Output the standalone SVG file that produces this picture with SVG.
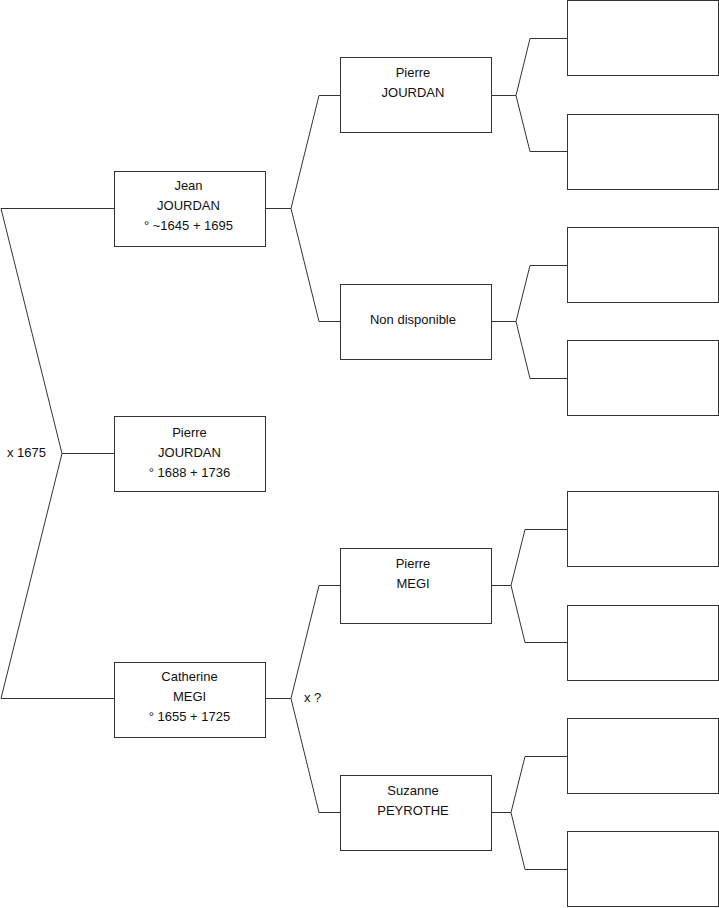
<svg xmlns="http://www.w3.org/2000/svg" width="719" height="908" viewBox="0 0 719 908">
<style>
.box{fill:#fff;stroke:#333;stroke-width:1}
.ln{fill:none;stroke:#333;stroke-width:1}
text{font-family:"Liberation Sans",Arial,sans-serif;font-size:13px;fill:#111;text-anchor:middle}
.lbl{text-anchor:start}
</style>
<rect width="719" height="908" fill="#fff"/>
<g id="connectors">
<polyline class="ln" points="114,208.5 1,208.5 62,453.5 1,698.5 114,698.5"/>
<line class="ln" x1="62" y1="453.5" x2="114" y2="453.5"/>
<polyline class="ln" points="340,95.5 319,95.5 291,208.5 319,321.5 340,321.5"/>
<line class="ln" x1="265" y1="208.5" x2="291" y2="208.5"/>
<polyline class="ln" points="340,585.5 319,585.5 291,698.5 319,812.5 340,812.5"/>
<line class="ln" x1="265" y1="698.5" x2="291" y2="698.5"/>
<polyline class="ln" points="567,38.5 530,38.5 516,95.5 530,151.5 567,151.5"/>
<line class="ln" x1="492" y1="95.5" x2="516" y2="95.5"/>
<polyline class="ln" points="567,265.5 530,265.5 516,321.5 530,378.5 567,378.5"/>
<line class="ln" x1="492" y1="321.5" x2="516" y2="321.5"/>
<polyline class="ln" points="567,529.5 525,529.5 511,585.5 525,642.5 567,642.5"/>
<line class="ln" x1="492" y1="585.5" x2="511" y2="585.5"/>
<polyline class="ln" points="567,756.5 525,756.5 511,812.5 525,869.5 567,869.5"/>
<line class="ln" x1="492" y1="812.5" x2="511" y2="812.5"/>
<text class="lbl" x="7" y="457">x 1675</text>
<text class="lbl" x="304" y="702">x ?</text>
</g>
<g id="jean">
<rect class="box" x="114.5" y="171.5" width="151" height="75"/>
<text x="188.5" y="190">Jean</text>
<text x="188.5" y="210">JOURDAN</text>
<text x="188.5" y="230">° ~1645 + 1695</text>
</g>
<g id="pierre-jourdan">
<rect class="box" x="114.5" y="416.5" width="151" height="75"/>
<text x="189.5" y="437">Pierre</text>
<text x="189.5" y="457">JOURDAN</text>
<text x="189.5" y="477">° 1688 + 1736</text>
</g>
<g id="catherine">
<rect class="box" x="114.5" y="662.5" width="151" height="75"/>
<text x="189.5" y="681">Catherine</text>
<text x="189.5" y="701">MEGI</text>
<text x="189.5" y="721">° 1655 + 1725</text>
</g>
<g id="pierre-jourdan-father">
<rect class="box" x="340.5" y="57.5" width="151" height="75"/>
<text x="413" y="77">Pierre</text>
<text x="413" y="97">JOURDAN</text>
</g>
<g id="non-disponible">
<rect class="box" x="340.5" y="284.5" width="151" height="75"/>
<text x="413" y="324">Non disponible</text>
</g>
<g id="pierre-megi">
<rect class="box" x="340.5" y="548.5" width="151" height="75"/>
<text x="413" y="568">Pierre</text>
<text x="413" y="588">MEGI</text>
</g>
<g id="suzanne">
<rect class="box" x="340.5" y="775.5" width="151" height="75"/>
<text x="413" y="795">Suzanne</text>
<text x="413" y="815">PEYROTHE</text>
</g>
<g id="gg1"><rect class="box" x="567.5" y="0.5" width="151" height="75"/></g>
<g id="gg2"><rect class="box" x="567.5" y="114.5" width="151" height="75"/></g>
<g id="gg3"><rect class="box" x="567.5" y="227.5" width="151" height="75"/></g>
<g id="gg4"><rect class="box" x="567.5" y="340.5" width="151" height="75"/></g>
<g id="gg5"><rect class="box" x="567.5" y="491.5" width="151" height="75"/></g>
<g id="gg6"><rect class="box" x="567.5" y="605.5" width="151" height="75"/></g>
<g id="gg7"><rect class="box" x="567.5" y="718.5" width="151" height="75"/></g>
<g id="gg8"><rect class="box" x="567.5" y="831.5" width="151" height="75"/></g>
</svg>
